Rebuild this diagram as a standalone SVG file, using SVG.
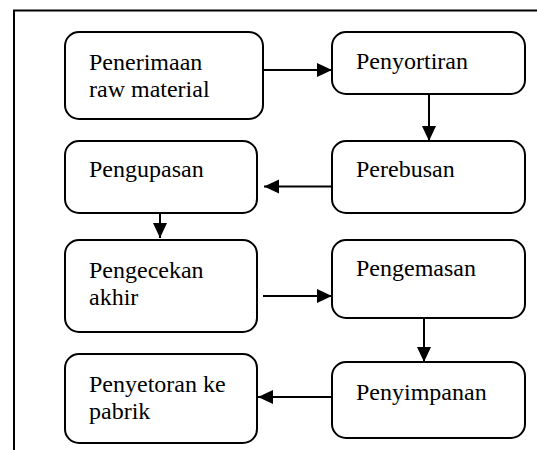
<svg xmlns="http://www.w3.org/2000/svg" width="537" height="450" viewBox="0 0 537 450">
<defs>
<style>
.box{fill:#fff;stroke:#000;stroke-width:2}
.lbl{font-family:"Liberation Serif","Times New Roman",serif;font-size:24px;fill:#000}
.conn{stroke:#000;stroke-width:2;fill:none;marker-end:url(#ah)}
.frame{stroke:#000;stroke-width:2;fill:none}
</style>
<marker id="ah" markerUnits="userSpaceOnUse" markerWidth="16" markerHeight="15" refX="15" refY="7" orient="auto" viewBox="0 0 16 14">
<path d="M0,0 L15,7 L0,14 z" fill="#000"/>
</marker>
</defs>
<rect width="537" height="450" fill="#fff"/>
<path class="frame" d="M14,450 V10.5 H537"/>
<g id="connectors">
<line class="conn" x1="263" y1="70" x2="332" y2="70"/>
<line class="conn" x1="429" y1="94" x2="429" y2="141"/>
<line class="conn" x1="332" y1="186.5" x2="264" y2="186.5"/>
<line class="conn" x1="160" y1="213" x2="160" y2="238"/>
<line class="conn" x1="263" y1="296" x2="332" y2="296"/>
<line class="conn" x1="424" y1="318" x2="424" y2="362"/>
<line class="conn" x1="332" y1="397" x2="258" y2="397"/>
</g>
<g id="penerimaan">
<rect class="box" x="65" y="32" width="198" height="87" rx="14"/>
<text class="lbl" x="89" y="69.5">Penerimaan</text>
<text class="lbl" x="89" y="96.5">raw material</text>
</g>
<g id="penyortiran">
<rect class="box" x="332" y="32" width="193" height="62" rx="14"/>
<text class="lbl" x="356" y="68.5">Penyortiran</text>
</g>
<g id="pengupasan">
<rect class="box" x="65" y="141" width="192" height="72" rx="14"/>
<text class="lbl" x="89" y="176.5">Pengupasan</text>
</g>
<g id="perebusan">
<rect class="box" x="332" y="141" width="193" height="72" rx="14"/>
<text class="lbl" x="356" y="176.5">Perebusan</text>
</g>
<g id="pengecekan">
<rect class="box" x="65" y="240" width="192" height="92" rx="14"/>
<text class="lbl" x="89" y="277.5">Pengecekan</text>
<text class="lbl" x="89" y="305">akhir</text>
</g>
<g id="pengemasan">
<rect class="box" x="332" y="240" width="193" height="78" rx="14"/>
<text class="lbl" x="356" y="275.5">Pengemasan</text>
</g>
<g id="penyetoran">
<rect class="box" x="65" y="354" width="192" height="89" rx="14"/>
<text class="lbl" x="89" y="391.5">Penyetoran ke</text>
<text class="lbl" x="89" y="418.5">pabrik</text>
</g>
<g id="penyimpanan">
<rect class="box" x="332" y="362" width="193" height="76" rx="14"/>
<text class="lbl" x="356" y="400">Penyimpanan</text>
</g>
</svg>
